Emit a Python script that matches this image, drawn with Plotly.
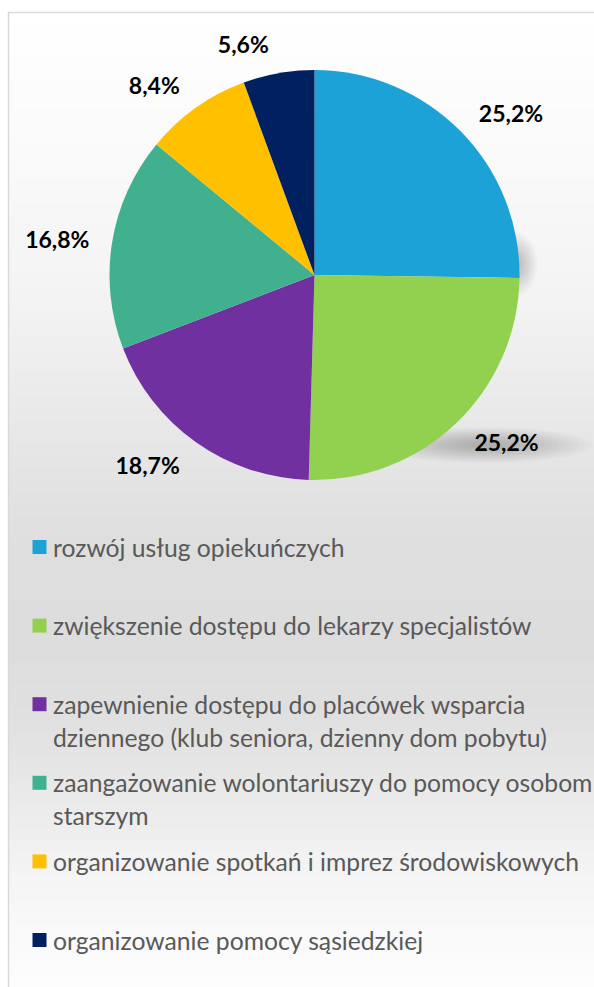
import textwrap
import plotly.graph_objects as go

# ---- data ----
categories = [
    "rozwój usług opiekuńczych",
    "zwiększenie dostępu do lekarzy specjalistów",
    "zapewnienie dostępu do placówek wsparcia dziennego (klub seniora, dzienny dom pobytu)",
    "zaangażowanie wolontariuszy do pomocy osobom starszym",
    "organizowanie spotkań i imprez środowiskowych",
    "organizowanie pomocy sąsiedzkiej",
]
values = [25.2, 25.2, 18.7, 16.8, 8.4, 5.6]
colors = ["#1CA2D7", "#92D050", "#7030A0", "#40B08E", "#FFC000", "#002060"]

W, H = 594, 987


def px_x(x):
    return x / W


def px_y(y):
    return 1 - y / H


def dom(cx, cy, r):
    return dict(x=[px_x(cx - r), px_x(cx + r)], y=[px_y(cy + r), px_y(cy - r)])


fig = go.Figure()

# pie geometry (pixels)
cx, cy, r = 314.5, 275.0, 205.0
label_gap = 16

# visible pie
fig.add_trace(go.Pie(
    labels=categories,
    values=values,
    sort=False,
    direction="clockwise",
    rotation=0,
    marker=dict(colors=colors, line=dict(width=0)),
    textinfo="none",
    domain=dom(cx, cy, r),
    showlegend=False,
    hoverinfo="label+percent",
))
# transparent, slightly larger pie carrying the outside data labels
fig.add_trace(go.Pie(
    labels=categories,
    values=values,
    sort=False,
    direction="clockwise",
    rotation=0,
    marker=dict(colors=["rgba(0,0,0,0)"] * len(values), line=dict(width=0)),
    texttemplate="%{value:.1f}%",
    textposition="outside",
    textfont=dict(family="Lato", size=23, color="#000000", weight="bold"),
    domain=dom(cx, cy, r + label_gap),
    showlegend=False,
    hoverinfo="skip",
))

shapes = []
# background gradient inside the chart frame
stops = [(12, 255), (150, 250), (300, 243), (450, 230), (550, 222), (650, 221),
         (720, 224), (800, 234), (880, 245), (987, 253)]


def gray_at(y):
    for (y0, g0), (y1, g1) in zip(stops, stops[1:]):
        if y0 <= y <= y1:
            t = (y - y0) / (y1 - y0)
            return g0 + (g1 - g0) * t
    return stops[-1][1]


band = 6
y = 12
while y < H:
    g = int(round(gray_at(y + band / 2)))
    shapes.append(dict(type="rect", xref="paper", yref="paper", layer="below",
                       x0=px_x(8.5), x1=1.01, y0=px_y(min(y + band + 0.5, H)), y1=px_y(y),
                       fillcolor=f"rgb({g},{g},{g})", line=dict(width=0)))
    y += band
# frame
shapes.append(dict(type="rect", xref="paper", yref="paper", layer="below",
                   x0=px_x(8.5), x1=1.2, y0=-0.2, y1=px_y(12.5),
                   fillcolor="rgba(0,0,0,0)", line=dict(color="#D9D9D9", width=1.5)))


# soft drop shadows (stacked translucent ellipses)
def soft_ellipse(ex, ey, rx, ry, n, alpha):
    for k in range(n):
        f = 1 - k / n
        shapes.append(dict(type="circle", xref="paper", yref="paper", layer="below",
                           x0=px_x(ex - rx * f), x1=px_x(ex + rx * f),
                           y0=px_y(ey + ry * f), y1=px_y(ey - ry * f),
                           fillcolor=f"rgba(0,0,0,{alpha})", line=dict(width=0)))


soft_ellipse(516, 264, 22, 32, 16, 0.016)
soft_ellipse(485, 445, 108, 18, 16, 0.015)

# legend (evenly spaced like the original)
annotations = []
first_y, step, line_h = 547.0, 78.6, 33
for i, (name, col) in enumerate(zip(categories, colors)):
    yc = first_y + i * step
    shapes.append(dict(type="rect", xref="paper", yref="paper",
                       x0=px_x(32.5), x1=px_x(46.5), y0=px_y(yc + 7), y1=px_y(yc - 7),
                       fillcolor=col, line=dict(width=0)))
    for j, line in enumerate(textwrap.wrap(name, width=45)):
        annotations.append(dict(xref="paper", yref="paper", x=px_x(50.5), y=px_y(yc + j * line_h),
                                xanchor="left", yanchor="middle", showarrow=False, text=line,
                                font=dict(family="Lato", size=24.7, color="#595959")))

fig.update_layout(
    width=W, height=H,
    margin=dict(l=0, r=0, t=0, b=0),
    paper_bgcolor="#FFFFFF",
    plot_bgcolor="#FFFFFF",
    separators=", ",
    shapes=shapes,
    annotations=annotations,
)

fig.write_html("out.html", config={"displayModeBar": False},
               post_script="document.body.style.margin='0';document.body.style.overflow='hidden';")
